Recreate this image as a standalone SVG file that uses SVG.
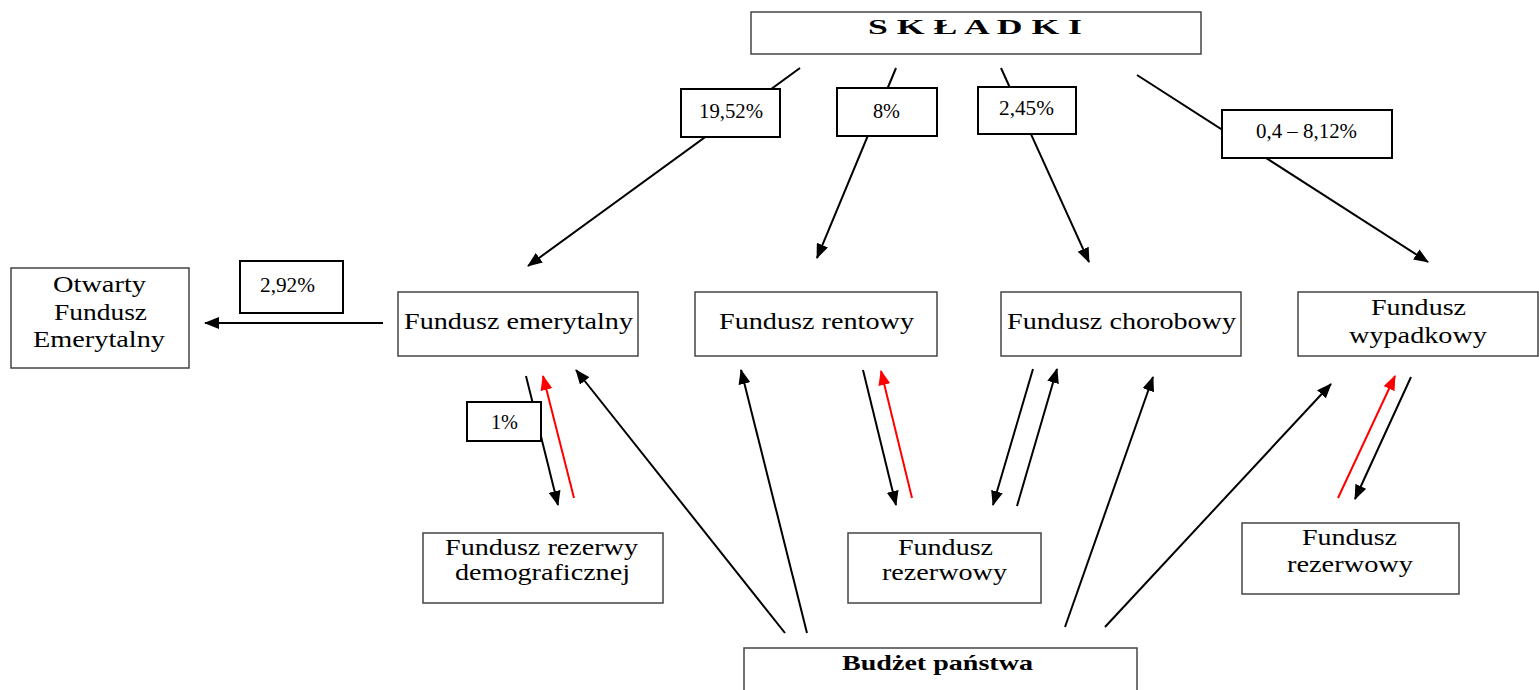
<svg xmlns="http://www.w3.org/2000/svg" width="1539" height="690" viewBox="0 0 1539 690">
<defs>
<marker id="ab" markerUnits="userSpaceOnUse" markerWidth="16" markerHeight="12" refX="14" refY="6" orient="auto"><path d="M0,0 L15,6 L0,12 Z" fill="#000"/></marker>
<marker id="ar" markerUnits="userSpaceOnUse" markerWidth="16" markerHeight="12" refX="14" refY="6" orient="auto"><path d="M0,0 L15,6 L0,12 Z" fill="#f00"/></marker>
<style>
.node{fill:#fff;stroke:#444;stroke-width:1.5}
.lbl{fill:#fff;stroke:#000;stroke-width:2}
.t{font-family:"Liberation Serif","Times New Roman",serif;font-size:23px;fill:#000;text-anchor:start}
.n{font-family:"Liberation Serif","Times New Roman",serif;font-size:20px;fill:#000}
.b{font-family:"Liberation Serif","Times New Roman",serif;font-size:22px;font-weight:bold;fill:#000}
.c{fill:none;stroke:#000;stroke-width:2}
.cr{fill:none;stroke:#f00;stroke-width:2}
</style>
</defs>
<rect width="1539" height="690" fill="#fff"/>

<g id="connectors">
<line class="c" x1="800" y1="68" x2="528" y2="266" marker-end="url(#ab)"/>
<line class="c" x1="896" y1="68" x2="817" y2="258" marker-end="url(#ab)"/>
<line class="c" x1="1001" y1="68" x2="1089" y2="262" marker-end="url(#ab)"/>
<line class="c" x1="1137" y1="75" x2="1428" y2="262" marker-end="url(#ab)"/>
<line class="c" x1="383" y1="323" x2="205" y2="323" marker-end="url(#ab)"/>
<line class="c" x1="526" y1="376" x2="558" y2="505" marker-end="url(#ab)"/>
<line class="cr" x1="574" y1="498" x2="543" y2="376" marker-end="url(#ar)"/>
<line class="c" x1="785" y1="633" x2="576" y2="370" marker-end="url(#ab)"/>
<line class="c" x1="807" y1="633" x2="741" y2="370" marker-end="url(#ab)"/>
<line class="c" x1="863" y1="370" x2="896" y2="505" marker-end="url(#ab)"/>
<line class="cr" x1="912" y1="498" x2="881" y2="371" marker-end="url(#ar)"/>
<line class="c" x1="1033" y1="369" x2="993" y2="505" marker-end="url(#ab)"/>
<line class="c" x1="1017" y1="506" x2="1057" y2="369" marker-end="url(#ab)"/>
<line class="c" x1="1065" y1="627" x2="1153" y2="377" marker-end="url(#ab)"/>
<line class="c" x1="1105" y1="627" x2="1331" y2="384" marker-end="url(#ab)"/>
<line class="cr" x1="1338" y1="498" x2="1395" y2="376" marker-end="url(#ar)"/>
<line class="c" x1="1411" y1="377" x2="1355" y2="499" marker-end="url(#ab)"/>
<g id="labels">
<rect class="lbl" x="681" y="89" width="99" height="48"/>
<text class="n" x="699" y="118" textLength="64" lengthAdjust="spacingAndGlyphs">19,52%</text>
<rect class="lbl" x="837" y="88" width="100" height="48"/>
<text class="n" x="873" y="118" textLength="27" lengthAdjust="spacingAndGlyphs">8%</text>
<rect class="lbl" x="978" y="87" width="98" height="47"/>
<text class="n" x="999" y="115" textLength="55" lengthAdjust="spacingAndGlyphs">2,45%</text>
<rect class="lbl" x="1222" y="110" width="170" height="48"/>
<text class="n" x="1256" y="138" textLength="101" lengthAdjust="spacingAndGlyphs">0,4 – 8,12%</text>
<rect class="lbl" x="240" y="261" width="103" height="52"/>
<text class="n" x="260" y="292" textLength="55" lengthAdjust="spacingAndGlyphs">2,92%</text>
<rect class="lbl" x="467" y="402" width="74" height="39"/>
<text class="n" x="491" y="429" textLength="27" lengthAdjust="spacingAndGlyphs">1%</text>
</g>
</g>

<g id="skladki">
<rect class="node" x="751" y="12" width="450" height="42"/>
<text class="b" x="868" y="34" textLength="214" lengthAdjust="spacingAndGlyphs">S K Ł A D K I</text>
</g>
<g id="ofe">
<rect class="node" x="11" y="268" width="178" height="100"/>
<text class="t" x="53" y="292" textLength="93" lengthAdjust="spacingAndGlyphs">Otwarty</text>
<text class="t" x="54" y="320" textLength="93" lengthAdjust="spacingAndGlyphs">Fundusz</text>
<text class="t" x="33" y="347" textLength="132" lengthAdjust="spacingAndGlyphs">Emerytalny</text>
</g>
<g id="emerytalny">
<rect class="node" x="398" y="292" width="240" height="64"/>
<text class="t" x="404" y="329" textLength="229" lengthAdjust="spacingAndGlyphs">Fundusz emerytalny</text>
</g>
<g id="rentowy">
<rect class="node" x="695" y="292" width="242" height="64"/>
<text class="t" x="719" y="329" textLength="195" lengthAdjust="spacingAndGlyphs">Fundusz rentowy</text>
</g>
<g id="chorobowy">
<rect class="node" x="1001" y="292" width="240" height="64"/>
<text class="t" x="1007" y="329" textLength="229" lengthAdjust="spacingAndGlyphs">Fundusz chorobowy</text>
</g>
<g id="wypadkowy">
<rect class="node" x="1298" y="292" width="240" height="64"/>
<text class="t" x="1371" y="315" textLength="95" lengthAdjust="spacingAndGlyphs">Fundusz</text>
<text class="t" x="1349" y="343" textLength="138" lengthAdjust="spacingAndGlyphs">wypadkowy</text>
</g>
<g id="rezerwa-demograficzna">
<rect class="node" x="423" y="533" width="240" height="70"/>
<text class="t" x="445" y="555" textLength="193" lengthAdjust="spacingAndGlyphs">Fundusz rezerwy</text>
<text class="t" x="455" y="580" textLength="175" lengthAdjust="spacingAndGlyphs">demograficznej</text>
</g>
<g id="rezerwowy-1">
<rect class="node" x="848" y="533" width="193" height="70"/>
<text class="t" x="898" y="555" textLength="95" lengthAdjust="spacingAndGlyphs">Fundusz</text>
<text class="t" x="882" y="580" textLength="125" lengthAdjust="spacingAndGlyphs">rezerwowy</text>
</g>
<g id="rezerwowy-2">
<rect class="node" x="1242" y="523" width="217" height="71"/>
<text class="t" x="1302" y="545" textLength="95" lengthAdjust="spacingAndGlyphs">Fundusz</text>
<text class="t" x="1287" y="572" textLength="126" lengthAdjust="spacingAndGlyphs">rezerwowy</text>
</g>
<g id="budzet">
<rect class="node" x="744" y="648" width="393" height="50"/>
<text class="b" x="842" y="670" textLength="191" lengthAdjust="spacingAndGlyphs">Budżet państwa</text>
</g>
</svg>
